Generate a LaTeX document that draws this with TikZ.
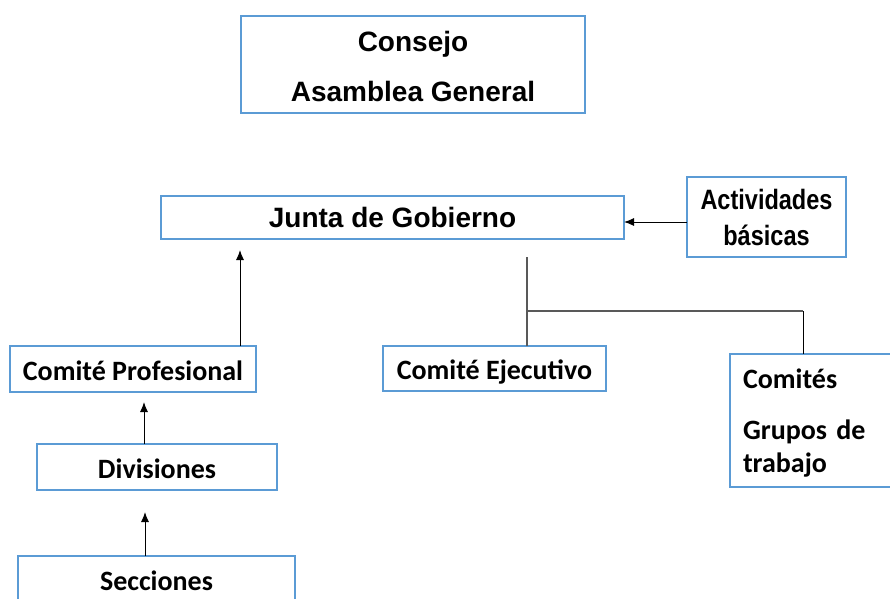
\documentclass[tikz,border=0pt]{standalone}
\usepackage{fontspec}
\setmainfont{Liberation Sans}
\newfontfamily\calib{Carlito}
\newfontfamily\narrowf[FakeStretch=0.84]{Liberation Sans}
\usetikzlibrary{arrows.meta}
\definecolor{boxblue}{RGB}{91,155,213}
\definecolor{conngray}{RGB}{89,89,89}
\begin{document}
\begin{tikzpicture}[x=1pt,y=-1pt,
  box/.style={draw=boxblue, line width=2pt, fill=white, inner sep=0pt, outer sep=0pt, text=black},
  arialtxt/.style={font=\bfseries\fontsize{28}{50}\selectfont},
  calibtxt/.style={font=\calib\bfseries\fontsize{28}{33}\selectfont},
  oneline/.style={text height=24pt, text depth=2pt},
  arr/.style={draw=black, line width=1pt, -{Latex[length=10pt,width=8pt]}},
  conn/.style={draw=conngray, line width=1.5pt},
  thinconn/.style={draw=black, line width=1pt}]
\useasboundingbox (0,0) rectangle (890,598);

\node[box, arialtxt, align=center, minimum width=344pt, minimum height=97pt] (consejo) at (413,64.5) {\rule{0pt}{24pt}Consejo\\Asamblea General};

\node[box, arialtxt, minimum width=463pt, minimum height=43pt] (junta) at (392.5,217.5) {Junta de Gobierno};

\node[box, font=\narrowf\bfseries\fontsize{28}{36}\selectfont, align=center, minimum width=159pt, minimum height=80pt] (activ) at (766.5,217) {Actividades\\b\'asicas};

\node[box, calibtxt, oneline, minimum width=246pt, minimum height=46pt] (comprof) at (133,369) {Comit\'e Profesional};
\node[box, calibtxt, oneline, minimum width=240pt, minimum height=46pt] (div) at (157,467) {Divisiones};
\node[box, calibtxt, oneline, minimum width=277pt, minimum height=46pt] (secc) at (156.5,579) {Secciones};
\node[box, calibtxt, oneline, minimum width=223pt, minimum height=45pt] (comeje) at (494.5,368.5) {Comit\'e Ejecutivo};
\node[box, calibtxt, align=left, text width=139pt, minimum width=165pt, minimum height=133pt] (comites) at (812.5,420.5) {\rule{0pt}{25pt}Comit\'es\\[18pt]Grupos de\\trabajo};

% arrows
\draw[arr] ([yshift=-5pt]activ.west) -- ([yshift=-5pt]activ.west -| junta.east);
\coordinate (cpTop) at (240,346);
\draw[arr] (cpTop) -- ([yshift=-11pt]cpTop |- junta.south);
\coordinate (dvTop) at (144,444);
\draw[arr] (dvTop) -- ([yshift=-10pt]dvTop |- comprof.south);
\coordinate (scTop) at (145,556);
\draw[arr] (scTop) -- ([yshift=-22pt]scTop |- div.south);

% tree connectors
\coordinate (jt) at (527,257);
\coordinate (br) at (527,311);
\coordinate (ct) at (803,311);
\draw[conn] (jt) -- (jt |- comeje.north);
\draw[conn] (br) -- (ct);
\draw[thinconn] (ct) -- (ct |- comites.north);
\end{tikzpicture}
\end{document}
